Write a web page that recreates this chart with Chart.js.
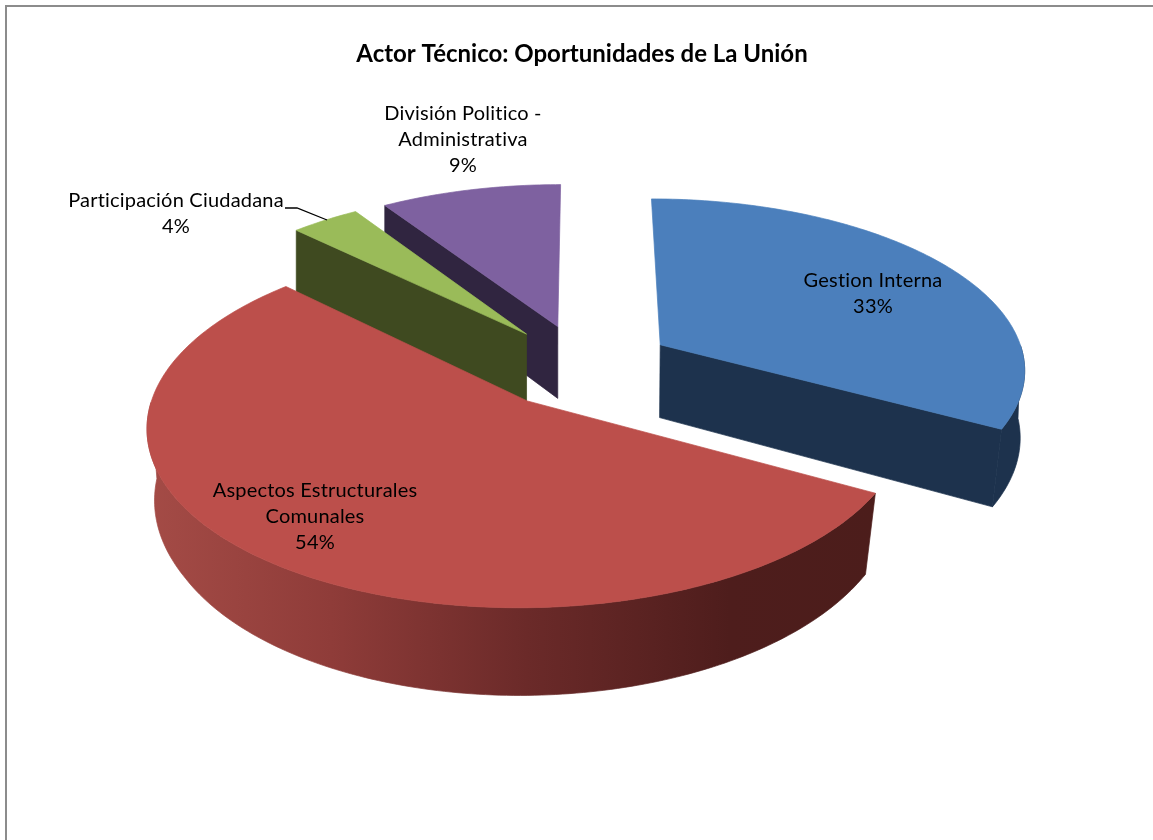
<!DOCTYPE html>
<html lang="es">
<head>
<meta charset="utf-8">
<title>Actor Técnico: Oportunidades de La Unión</title>
<script src="https://cdn.jsdelivr.net/npm/chart.js@4/dist/chart.umd.js"></script>
<style>html,body{margin:0;padding:0;background:#fff}canvas{display:block}</style>
</head>
<body>
<canvas id="c" width="1153" height="840"></canvas>
<script>
const categories = ['Gestion Interna', 'Aspectos Estructurales Comunales', 'Participación Ciudadana', 'División Politico - Administrativa'];
const values = [33, 54.3, 3.5, 9.2];
const topColors = ['#4b7fbc', '#bc4f4b', '#9abb59', '#7e61a0'];
const wallColors = ['#1d324d', '#6b2a28', '#3f4a20', '#302540'];
const chartTitle = 'Actor Técnico: Oportunidades de La Unión';
const labelLines = [['Gestion Interna', '33%'], ['Aspectos Estructurales', 'Comunales', '54%'], ['Participación Ciudadana', '4%'], ['División Politico -', 'Administrativa', '9%']];
const labelAnchors = [[873, 281], [315, 491], [176, 201], [463, 114]];
const paintOrder = [3, 2, 0, 1];

// perspective of the disk plane, fitted to the picture
const view = {cx: 583, cy: 366, a: 366, b: 170, k: 0.13, depth: 74, shrink: 0.03, shrinkX: 540};

function project(x, y, drop) {
  const w = 1 - view.k * y;
  let sx = view.cx + view.a * x / w;
  let sy = view.cy + view.b * y / w;
  if (drop) {
    const s = view.shrink * Math.min(1, Math.max(0, y + 0.3));
    sx -= (sx - view.shrinkX) * s;
    sy += view.depth / w;
  }
  return [sx, sy];
}
function tracePts(ctx, pts) {
  ctx.beginPath();
  pts.forEach((p, i) => i ? ctx.lineTo(p[0], p[1]) : ctx.moveTo(p[0], p[1]));
  ctx.closePath();
}
function paint(ctx, style) {
  ctx.fillStyle = style;
  ctx.strokeStyle = style;
  ctx.lineWidth = 0.7;
  ctx.lineJoin = 'round';
  ctx.fill();
  ctx.stroke();
}
const pie3d = {
  id: 'pie3d',
  beforeDraw(chart) {
    const ctx = chart.ctx;
    ctx.save();
    ctx.fillStyle = '#fff';
    ctx.fillRect(0, 0, chart.width, chart.height);
    ctx.strokeStyle = '#8c8c8c';
    ctx.lineWidth = 2;
    ctx.beginPath();
    ctx.moveTo(6, chart.height);
    ctx.lineTo(6, 6);
    ctx.lineTo(chart.width, 6);
    ctx.stroke();
    ctx.restore();
  },
  beforeDatasetDraw(chart, args) {
    const ctx = chart.ctx;
    const arcs = chart.getDatasetMeta(args.index).data;
    ctx.save();
    paintOrder.forEach(i => {
      const arc = arcs[i];
      const R = arc.outerRadius;
      const e = arc.options.offset / R;
      const mid = (arc.startAngle + arc.endAngle) / 2;
      const ox = e * Math.cos(mid), oy = e * Math.sin(mid);
      const rim = [];
      const rimAngles = [];
      const n = Math.max(6, Math.ceil((arc.endAngle - arc.startAngle) * 60));
      for (let j = 0; j <= n; j++) {
        const t = arc.startAngle + (arc.endAngle - arc.startAngle) * j / n;
        rim.push([ox + Math.cos(t), oy + Math.sin(t)]);
        rimAngles.push(t);
      }
      const apex = [ox, oy];
      const top = [apex, ...rim].map(p => project(p[0], p[1], false));
      const wall = p => project(p[0], p[1], true);
      // radial walls, only the ones that face the viewer
      const radial = r => {
        tracePts(ctx, [project(apex[0], apex[1]), project(r[0], r[1]), wall(r), wall(apex)]);
        paint(ctx, wallColors[i]);
      };
      if (-Math.cos(arc.startAngle) > 0.01) radial(rim[0]);
      if (Math.cos(arc.endAngle) > 0.01) radial(rim[n]);
      // outer wall, only the front part of the rim
      const front = rim.filter((p, j) => Math.sin(rimAngles[j]) >= 0);
      if (front.length > 1) {
        let fill = wallColors[i];
        if (i === 1) {
          const g = ctx.createLinearGradient(150, 0, 875, 0);
          g.addColorStop(0, '#a44b46');
          g.addColorStop(0.25, '#8f3c39');
          g.addColorStop(0.52, '#6b2a29');
          g.addColorStop(0.8, '#4e1d1c');
          g.addColorStop(1, '#4c1d1b');
          fill = g;
        }
        tracePts(ctx, [...front.map(p => project(p[0], p[1], false)), ...front.slice().reverse().map(wall)]);
        paint(ctx, fill);
      }
      // top face
      tracePts(ctx, top);
      paint(ctx, arc.options.backgroundColor);
    });
    ctx.restore();
    return false;
  },
  afterDatasetsDraw(chart) {
    const ctx = chart.ctx;
    ctx.save();
    ctx.strokeStyle = '#000';
    ctx.lineWidth = 1.3;
    ctx.beginPath();
    ctx.moveTo(285, 208);
    ctx.lineTo(297, 208);
    ctx.lineTo(327, 220);
    ctx.stroke();
    ctx.fillStyle = '#000';
    ctx.font = '20px Lato';
    ctx.letterSpacing = '0.2px';
    ctx.textAlign = 'center';
    ctx.textBaseline = 'middle';
    labelLines.forEach((lines, i) => {
      lines.forEach((t, j) => ctx.fillText(t, labelAnchors[i][0], labelAnchors[i][1] + j * 26));
    });
    ctx.restore();
  }
};
new Chart(document.getElementById('c'), {
  type: 'pie',
  data: {
    labels: categories,
    datasets: [{data: values, backgroundColor: topColors, borderWidth: 0, offset: 81}]
  },
  options: {
    responsive: false,
    animation: false,
    layout: {padding: {left: 11}},
    plugins: {
      legend: {display: false},
      tooltip: {enabled: false},
      title: {
        display: true, text: chartTitle, color: '#000',
        font: {family: 'Lato', size: 24, weight: 'bold'},
        padding: {top: 40, bottom: 40}
      }
    }
  },
  plugins: [pie3d]
});
</script>
</body>
</html>
